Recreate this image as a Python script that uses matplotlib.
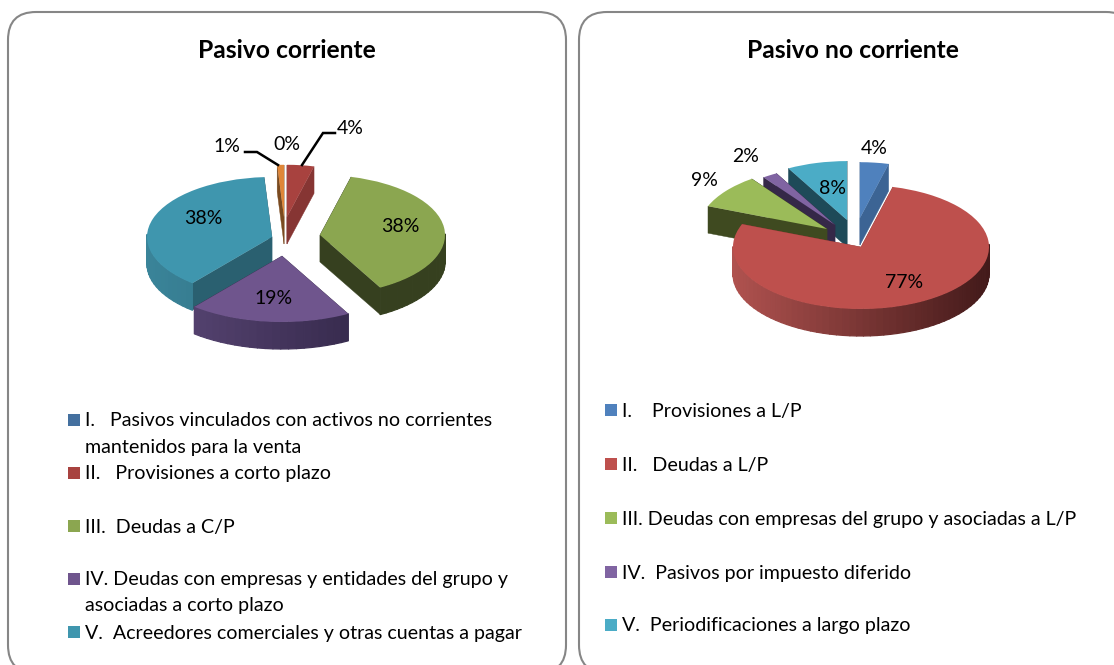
import numpy as np
import matplotlib
matplotlib.use("Agg")
import matplotlib.pyplot as plt
from matplotlib.patches import FancyBboxPatch, Rectangle, Polygon
from matplotlib.collections import PolyCollection
from matplotlib.colors import to_rgb

# ---------- data ----------
left_title = "Pasivo corriente"
left_values = [0, 4, 38, 19, 38, 1]
left_labels = ["0%", "4%", "38%", "19%", "38%", "1%"]
left_legend_txt = ["I.   Pasivos vinculados con activos no corrientes\nmantenidos para la venta",
                   "II.   Provisiones a corto plazo",
                   "III.  Deudas a C/P",
                   "IV. Deudas con empresas y entidades del grupo y\nasociadas a corto plazo",
                   "V.  Acreedores comerciales y otras cuentas a pagar"]

right_title = "Pasivo no corriente"
right_values = [4, 77, 9, 2, 8]
right_labels = ["4%", "77%", "9%", "2%", "8%"]
right_legend_txt = ["I.    Provisiones a L/P", "II.   Deudas a L/P",
                    "III. Deudas con empresas del grupo y asociadas a L/P",
                    "IV.  Pasivos por impuesto diferido",
                    "V.  Periodificaciones a largo plazo"]

# ---------- style / layout ----------
W, H = 1114, 665
FONT = "Lato"
LEG_FS = 14.1
left_top = ["#44709F", "#A8423F", "#8BA650", "#6F558D", "#3F96AE", "#DF8638"]
left_leg = ["#44709F", "#A8423F", "#8BA650", "#6F558D", "#3F96AE"]
left_face = ["#2f4f70", "#863533", "#36401F", "#3a2c4c", "#2A6070", "#7a4a20"]
left_sideL = ["#2f4f70", "#8a3835", "#36401F", "#5c4878", "#3A8499", "#9a5a26"]
left_sideR = ["#2f4f70", "#8a3835", "#36401F", "#2B2140", "#2A6070", "#7a4a20"]
left_apex = [(287, 217), (287, 217), (320, 235), (282, 256), (272, 237), (284, 217)]
left_scale = [1, 0.87, 1, 1.1, 1, 0.87]
left_order = [0, 5, 1, 4, 2, 3]

right_top = ["#4F81BD", "#BE504D", "#9BBB59", "#8064A2", "#4BACC6"]
right_face = ["#3C6494", "#8a3835", "#3F4A20", "#352848", "#1E4A58"]
right_sideL = ["#3C6494", "#B0524F", "#3F4A20", "#352848", "#1E4A58"]
right_sideR = ["#3C6494", "#431A1A", "#3F4A20", "#352848", "#1E4A58"]
right_apex = [(860, 218), (861, 247), (827, 229), (835, 225), (847, 220)]
right_scale = [0.9, 1, 1, 0.95, 0.95]
right_order = [0, 4, 3, 2, 1]

RX_L, RY_L = 125, 60
RX_R, RY_R = 128, 62
DEPTH = 27

fig = plt.figure(figsize=(W / 100, H / 100), dpi=100, facecolor="white")
bg = fig.add_axes([0, 0, 1, 1])
bg.set_xlim(0, W)
bg.set_ylim(H, 0)
bg.axis("off")


def panel(x0, x1, y0, y1, r=28):
    bg.add_patch(FancyBboxPatch((x0 + r, y0 + r), x1 - x0 - 2 * r, y1 - y0 - 2 * r,
                                boxstyle=f"round,pad={r},rounding_size={r}",
                                fc="white", ec="#868686", lw=1.5, clip_on=True))


panel(8, 566, 12, 673)
panel(579, 1134, 12, 673)


def mix(a, b, t):
    a, b = np.array(to_rgb(a)), np.array(to_rgb(b))
    return tuple(a + (b - a) * t)


def pie3d(values, tops, faces, sideL, sideR, apexes, scales, order, rx, ry):
    # axes whose unit circle spans rx by ry pixels, centred on the second apex
    cx, cy = apexes[1]
    half_w, half_h = 2.0 * rx, 2.4 * ry
    ax = fig.add_axes([(cx - half_w) / W, 1 - (cy + half_h) / H, 2 * half_w / W, 2 * half_h / H])
    wedges, _ = ax.pie(values, startangle=90, counterclock=False, colors=tops, radius=1,
                       wedgeprops=dict(lw=0))
    ax.set_aspect("auto")
    ax.set_xlim(-2.0, 2.0)
    ax.set_ylim(-2.4, 2.4)
    ax.axis("off")
    ax.patch.set_alpha(0)
    dz = DEPTH / ry
    for z, i in enumerate(order):
        w = wedges[i]
        if values[i] == 0:
            w.set_visible(False)
            continue
        sc = scales[i]
        c = ((apexes[i][0] - cx) / rx, -(apexes[i][1] - cy) / ry)
        w.set_center(c)
        w.set_radius(sc)
        base = 10 + 3 * z
        t1, t2 = np.deg2rad(w.theta1), np.deg2rad(w.theta2)
        # radial side faces
        for t in (t1, t2):
            p = (c[0] + sc * np.cos(t), c[1] + sc * np.sin(t))
            ax.add_patch(Polygon([c, p, (p[0], p[1] - dz), (c[0], c[1] - dz)],
                                 fc=faces[i], ec=faces[i], lw=0.3, zorder=base))
        # outer rim, shaded from left to right
        th = np.linspace(t1, t2, max(int(np.degrees(t2 - t1) / 3), 2))
        quads, cols = [], []
        for a, b in zip(th[:-1], th[1:]):
            m = 0.5 * (a + b)
            if np.sin(m) > 0.02:
                continue
            xa, ya = c[0] + sc * np.cos(a), c[1] + sc * np.sin(a)
            xb, yb = c[0] + sc * np.cos(b), c[1] + sc * np.sin(b)
            quads.append([(xa, ya), (xb, yb), (xb, yb - dz), (xa, ya - dz)])
            cols.append(mix(sideL[i], sideR[i], 0.5 + 0.5 * np.cos(m)))
        if quads:
            ax.add_collection(PolyCollection(quads, facecolors=cols, edgecolors=cols,
                                             linewidths=0.9, zorder=base + 1))
        w.set_zorder(base + 2)
    return ax


pie3d(left_values, left_top, left_face, left_sideL, left_sideR, left_apex,
      left_scale, left_order, RX_L, RY_L)
pie3d(right_values, right_top, right_face, right_sideL, right_sideR, right_apex,
      right_scale, right_order, RX_R, RY_R)

over = fig.add_axes([0, 0, 1, 1], zorder=50)
over.set_xlim(0, W)
over.set_ylim(H, 0)
over.axis("off")
over.patch.set_alpha(0)

over.text(287, 51, left_title, ha="center", va="center", fontsize=17.7, fontweight="bold", family=FONT, color="black")
over.text(853, 51, right_title, ha="center", va="center", fontsize=17.7, fontweight="bold", family=FONT, color="black")

left_lab_pos = [(287, 143), (350, 127), (400, 226), (274, 298), (203, 218), (227, 146)]
right_lab_pos = [(874, 148), (904, 282), (704, 180), (746, 156), (833, 188)]
for s, p in list(zip(left_labels, left_lab_pos)) + list(zip(right_labels, right_lab_pos)):
    over.text(p[0], p[1] + 6.5, s, ha="center", va="baseline", fontsize=14, family=FONT, color="black")

for pts in ([(245, 152), (257, 152), (278, 165)], [(335, 133), (323, 133), (302, 165)]):
    xs, ys = zip(*pts)
    over.plot(xs, ys, color="black", lw=1.8, solid_joinstyle="miter")

BASE = 6.5
left_y = [420, 473, 526, 579, 632]
LINE = 26
for t, y, col in zip(left_legend_txt, left_y, left_leg):
    over.add_patch(Rectangle((68, y - 6), 12, 12, fc=col, ec="none"))
    lines = t.split("\n")
    over.text(85, y + BASE, lines[0], va="baseline", ha="left", fontsize=LEG_FS, family=FONT, color="black")
    if len(lines) > 1:
        over.text(85, y + BASE + LINE, lines[1], va="baseline", ha="left", fontsize=LEG_FS, family=FONT, color="black")

right_y = [410, 464, 518, 572, 625]
for t, y, col in zip(right_legend_txt, right_y, right_top):
    over.add_patch(Rectangle((605, y - 6), 12, 12, fc=col, ec="none"))
    over.text(622, y + BASE, t, va="baseline", ha="left", fontsize=LEG_FS, family=FONT, color="black")

fig.savefig("out.png", dpi=100, facecolor="white")
